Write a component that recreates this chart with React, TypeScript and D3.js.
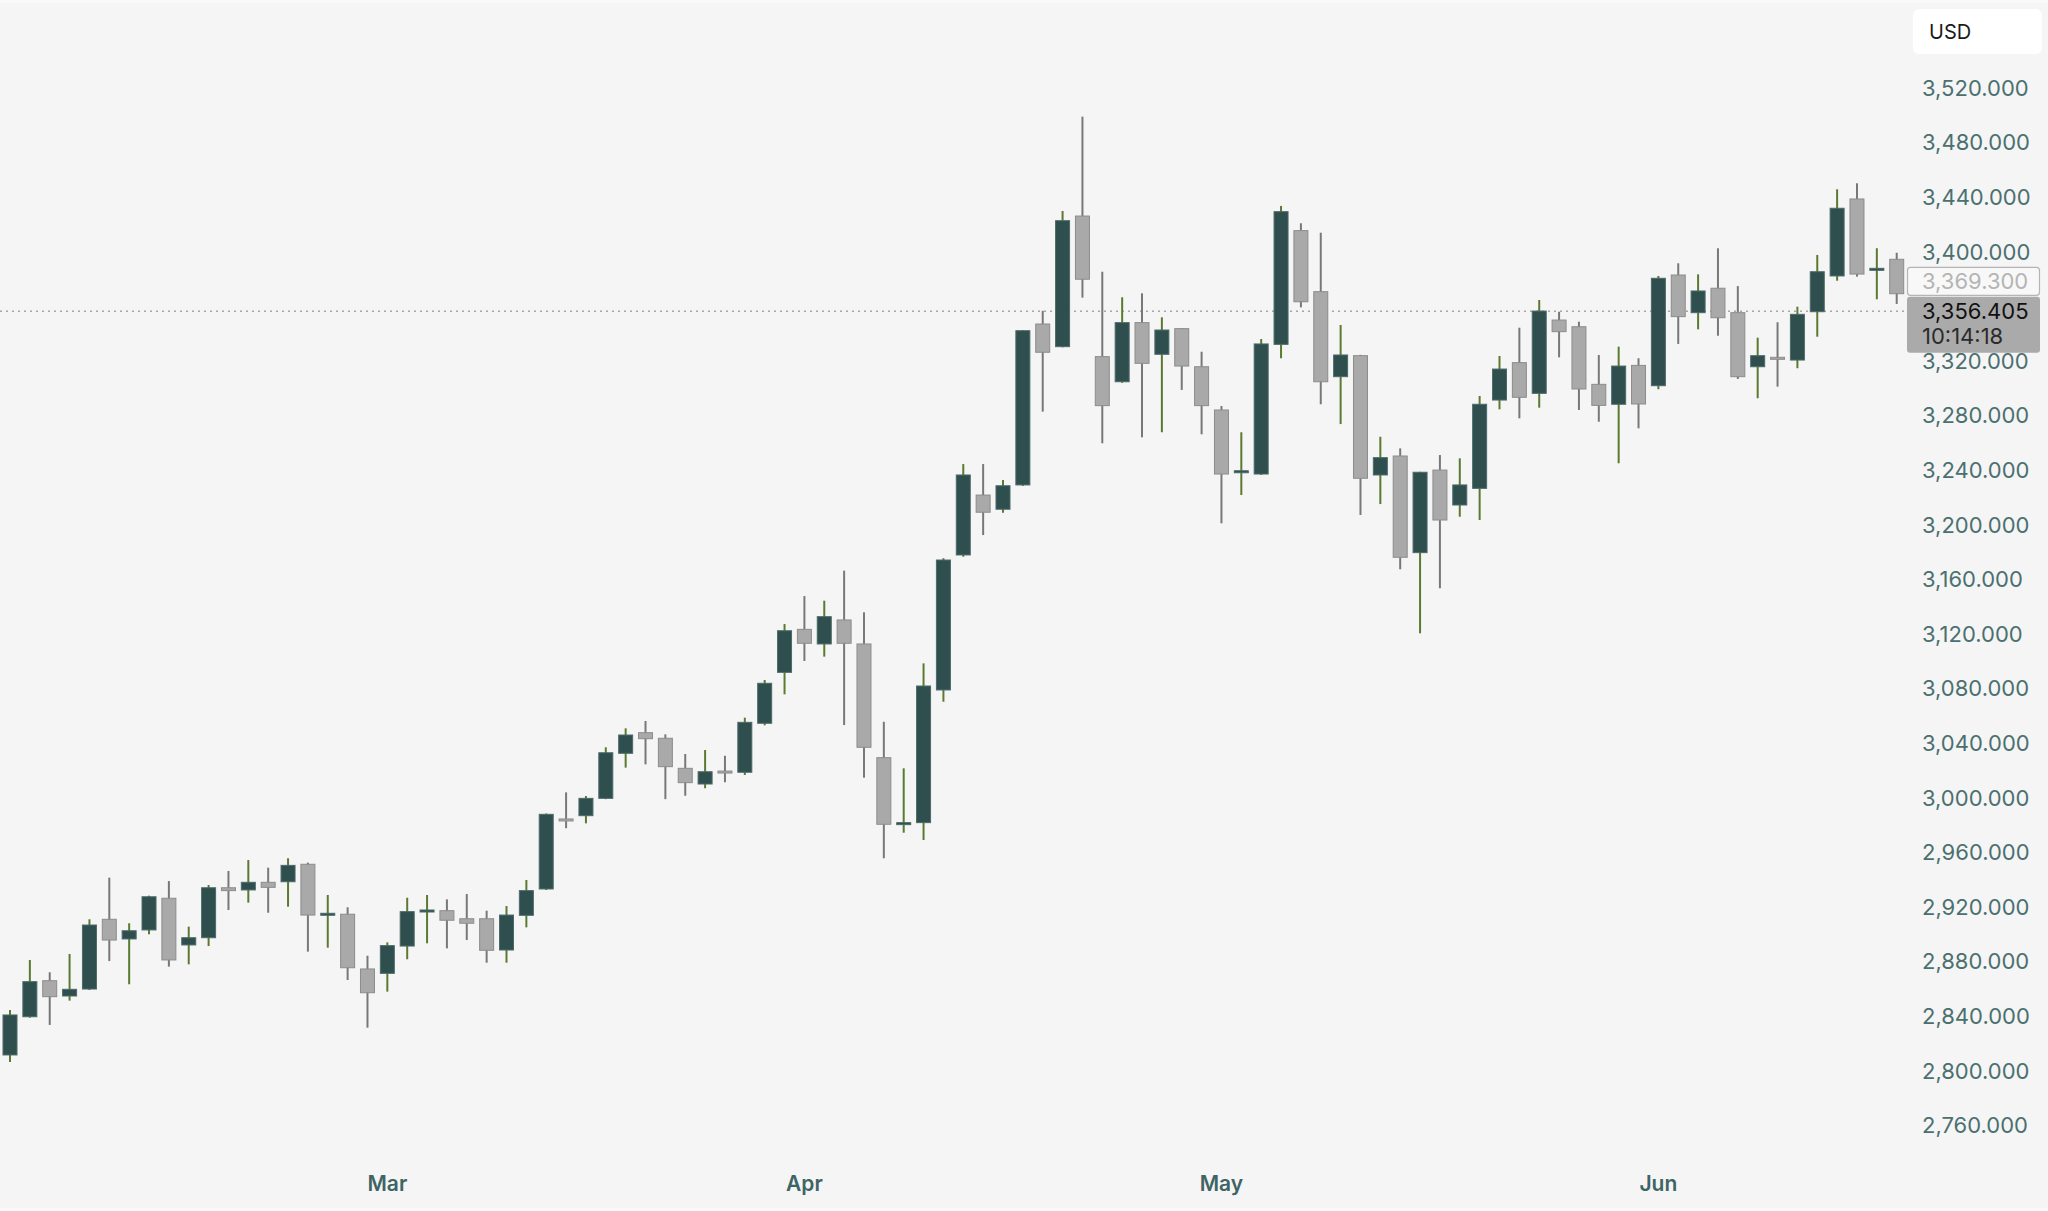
import React, { useEffect } from "react";
import * as d3 from "d3";

// daily candles, Feb -> mid Jun (trading days only)
const opens = [
  2811.6, 2839.6, 2866.0, 2854.8, 2859.9, 2911.0, 2896.6, 2903.2, 2926.4, 2892.2,
  2897.5, 2934.1, 2932.5, 2938.1, 2938.5, 2951.3, 2914.4, 2914.7, 2874.6, 2871.4,
  2891.4, 2916.9, 2917.3, 2911.4, 2911.4, 2888.5, 2913.9, 2933.2, 2984.5, 2986.9,
  2999.6, 3032.6, 3047.7, 3043.6, 3021.6, 3010.1, 3019.6, 3018.7, 3054.6, 3091.9,
  3123.4, 3112.7, 3130.3, 3112.7, 3029.4, 2981.1, 2981.8, 3079.0, 3177.9, 3221.8,
  3211.4, 3229.2, 3347.1, 3330.5, 3426.2, 3323.2, 3304.8, 3348.1, 3324.9, 3343.7,
  3315.8, 3284.1, 3238.2, 3237.2, 3332.2, 3415.5, 3370.8, 3308.5, 3323.9, 3236.5,
  3250.4, 3179.6, 3240.1, 3214.5, 3226.7, 3291.4, 3318.8, 3296.3, 3350.0, 3345.1,
  3302.9, 3288.3, 3316.8, 3301.9, 3383.0, 3355.4, 3373.3, 3355.4, 3315.8, 3322.7,
  3320.7, 3356.1, 3382.3, 3438.7, 3387.2, 3394.5,
];
const highs = [
  2844.5, 2881.2, 2872.2, 2885.6, 2911.0, 2941.5, 2908.1, 2928.3, 2939.0, 2905.6,
  2936.1, 2946.4, 2954.4, 2948.8, 2955.7, 2952.5, 2928.8, 2919.8, 2884.3, 2894.1,
  2926.8, 2928.8, 2925.6, 2929.5, 2917.3, 2920.7, 2939.8, 2988.5, 3004.0, 3001.3,
  3037.0, 3050.9, 3056.3, 3046.5, 3032.1, 3035.0, 3030.8, 3058.7, 3086.3, 3127.3,
  3147.8, 3144.4, 3166.4, 3135.9, 3055.7, 3021.6, 3098.5, 3175.5, 3244.5, 3244.5,
  3232.8, 3342.5, 3356.8, 3429.9, 3499.0, 3385.4, 3366.7, 3369.6, 3352.0, 3344.0,
  3326.8, 3287.0, 3267.8, 3336.1, 3433.6, 3420.9, 3414.0, 3346.4, 3324.5, 3264.5,
  3256.0, 3238.8, 3251.1, 3248.7, 3294.4, 3323.7, 3344.4, 3364.7, 3356.1, 3348.8,
  3324.4, 3330.5, 3322.0, 3382.3, 3391.6, 3383.5, 3402.6, 3374.9, 3337.1, 3348.4,
  3359.8, 3397.7, 3445.8, 3450.2, 3402.6, 3399.3,
];
const lows = [
  2806.4, 2838.9, 2833.6, 2851.4, 2859.2, 2880.4, 2863.4, 2900.0, 2876.3, 2878.0,
  2891.4, 2917.8, 2923.2, 2915.8, 2920.2, 2887.3, 2890.2, 2866.5, 2831.6, 2858.0,
  2881.7, 2893.4, 2889.7, 2895.8, 2879.2, 2879.2, 2905.1, 2932.5, 2977.7, 2981.3,
  2999.0, 3022.1, 3024.5, 2999.0, 3001.5, 3007.0, 3011.4, 3016.7, 3053.1, 3075.8,
  3100.2, 3103.4, 3053.3, 3014.7, 2955.7, 2974.4, 2969.1, 3070.4, 3176.6, 3192.5,
  3208.9, 3228.5, 3282.9, 3330.0, 3366.4, 3259.7, 3304.0, 3264.1, 3267.8, 3298.8,
  3266.3, 3201.1, 3221.8, 3236.5, 3322.0, 3359.3, 3288.3, 3273.8, 3207.2, 3215.2,
  3167.4, 3120.5, 3153.5, 3205.9, 3203.5, 3284.6, 3278.0, 3285.8, 3322.7, 3284.1,
  3275.5, 3245.1, 3270.7, 3299.3, 3332.5, 3343.2, 3338.5, 3306.8, 3292.7, 3301.2,
  3314.7, 3337.8, 3378.8, 3381.8, 3365.2, 3361.8,
];
const closes = [
  2840.9, 2865.3, 2854.3, 2859.7, 2906.8, 2895.8, 2902.6, 2927.5, 2881.2, 2897.5,
  2934.1, 2932.0, 2938.1, 2934.4, 2950.5, 2914.1, 2915.4, 2875.5, 2857.2, 2891.7,
  2916.6, 2917.8, 2910.3, 2908.1, 2888.3, 2914.1, 2932.0, 2987.9, 2983.7, 2999.6,
  3033.0, 3046.0, 3043.3, 3022.8, 3011.1, 3019.1, 3018.7, 3055.3, 3083.9, 3122.4,
  3113.2, 3132.7, 3113.2, 3037.0, 2980.6, 2981.8, 3081.9, 3174.2, 3236.5, 3209.2,
  3228.6, 3342.2, 3326.4, 3422.8, 3379.9, 3287.3, 3348.1, 3318.3, 3342.7, 3316.3,
  3287.3, 3237.2, 3239.6, 3332.5, 3429.4, 3363.4, 3304.8, 3324.4, 3234.1, 3249.2,
  3176.2, 3238.5, 3203.5, 3229.2, 3288.3, 3314.1, 3293.4, 3356.6, 3341.5, 3299.5,
  3287.5, 3316.3, 3288.5, 3380.6, 3352.5, 3371.3, 3351.7, 3308.5, 3323.9, 3321.5,
  3354.2, 3385.4, 3431.9, 3383.7, 3387.9, 3369.3,
];

// first trading day of each month (candle index)
const monthLabels = ["Mar", "Apr", "May", "Jun"];
const monthIndex = [19, 40, 61, 83];

const priceTicks = [
  2760, 2800, 2840, 2880, 2920, 2960, 3000, 3040, 3080, 3120,
  3160, 3200, 3240, 3280, 3320, 3360, 3400, 3440, 3480, 3520,
];

const currency = "USD";
const currentPrice = 3356.405;
const currentTime = "10:14:18";
const lastClose = 3369.3;

const W = 2048;
const H = 1211;

const UP_BODY = "#2f4f4e";
const UP_EDGE = "#4c6a69";
const UP_WICK = "#5b7a30";
const DOWN_BODY = "#a9a9a9";
const DOWN_EDGE = "#8c8c8c";
const DOWN_WICK = "#787878";

const App = () => {
  useEffect(() => {
    document.body.style.margin = "0";
    document.body.style.background = "#f5f5f5";
  }, []);

  const x = d3.scaleLinear().domain([0, opens.length - 1]).range([10, 10 + 19.86 * (opens.length - 1)]);
  const y = d3.scaleLinear().domain([2760, 3520]).range([1125.4, 88]);
  const fmt = d3.format(",.3f");
  const bodyW = 14;

  const candles = opens.map((o, i) => ({
    i,
    o,
    h: highs[i],
    l: lows[i],
    c: closes[i],
    up: closes[i] >= o,
  }));

  const curY = y(currentPrice);
  const curTop = curY - 14.5;
  const lastTop = curTop - 29.5;
  const curBottom = curTop + 56;

  // the tick label that sits fully behind the price boxes is not drawn
  const visibleTicks = priceTicks.filter((t) => {
    const ty = y(t);
    return ty < lastTop - 4 || ty > curBottom;
  });

  return (
    <svg
      width={W}
      height={H}
      style={{ display: "block", fontFamily: "Inter, 'Noto Sans', sans-serif" }}
    >
      <rect x={0} y={0} width={W} height={H} fill="#f5f5f5" />
      <rect x={0} y={0} width={W} height={3} fill="#f9f9f9" />
      <rect x={0} y={1208} width={W} height={3} fill="#fafafa" />

      {/* current price dotted line */}
      <line
        x1={0}
        x2={1905}
        y1={curY}
        y2={curY}
        stroke="#a6a6a6"
        strokeWidth={1.5}
        strokeDasharray="2 4"
      />

      {/* candles */}
      <g>
        {candles.map((d) => {
          const cx = x(d.i);
          const top = y(Math.max(d.o, d.c));
          const bot = y(Math.min(d.o, d.c));
          const bh = Math.max(bot - top, 2);
          return (
            <g key={d.i}>
              <line
                x1={cx}
                x2={cx}
                y1={y(d.h)}
                y2={y(d.l)}
                stroke={d.up ? UP_WICK : DOWN_WICK}
                strokeWidth={2}
              />
              <rect
                x={cx - bodyW / 2}
                y={top}
                width={bodyW}
                height={bh}
                fill={d.up ? UP_BODY : DOWN_BODY}
                stroke={d.up ? UP_EDGE : DOWN_EDGE}
                strokeWidth={1}
              />
            </g>
          );
        })}
      </g>

      {/* price axis */}
      <g>
        {visibleTicks.map((t) => (
          <text
            key={t}
            x={1922}
            y={y(t)}
            dy="0.35em"
            fontSize={22}
            fill="#4b7070"
          >
            {fmt(t)}
          </text>
        ))}
      </g>

      {/* month axis */}
      <g>
        {monthLabels.map((m, k) => (
          <text
            key={m}
            x={x(monthIndex[k])}
            y={1191}
            textAnchor="middle"
            fontSize={21}
            fontWeight={600}
            fill="#3e6464"
          >
            {m}
          </text>
        ))}
      </g>

      {/* last close label */}
      <rect
        x={1907.5}
        y={lastTop}
        width={132}
        height={28}
        rx={3}
        fill="#f8f8f8"
        stroke="#b5b5b5"
        strokeWidth={1.2}
      />
      <text x={1922} y={lastTop + 14} dy="0.35em" fontSize={22} fill="#b4b4b4">
        {fmt(lastClose)}
      </text>

      {/* current price label */}
      <rect x={1907} y={curTop} width={133} height={56} rx={3} fill="#aaaaaa" />
      <text x={1922} y={curY} dy="0.35em" fontSize={22} fill="#111111">
        {fmt(currentPrice)}
      </text>
      <text x={1922} y={curY + 25} dy="0.35em" fontSize={22} fill="#2b2b2b">
        {currentTime}
      </text>

      {/* currency box */}
      <rect x={1913} y={9} width={129} height={45} rx={6} fill="#ffffff" />
      <text x={1929} y={31.5} dy="0.35em" fontSize={20} fill="#1a1a1a">
        {currency}
      </text>
    </svg>
  );
};

export default App;
